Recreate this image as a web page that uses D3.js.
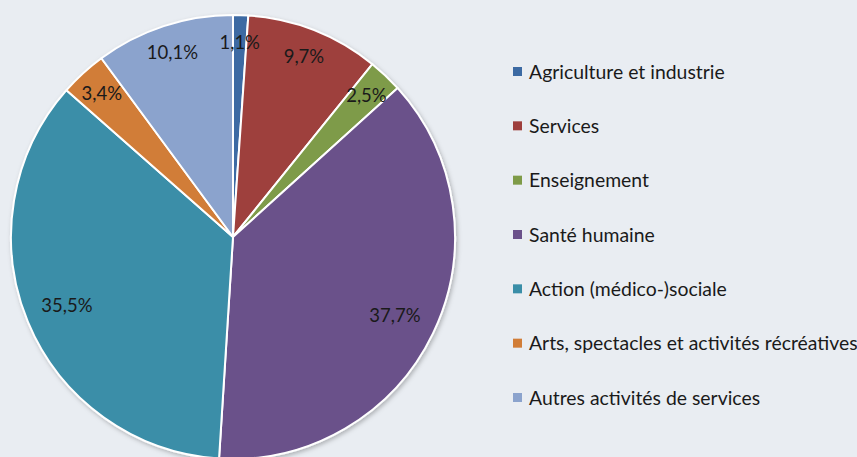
<!DOCTYPE html>
<html>
<head>
<meta charset="utf-8">
<script src="https://cdn.jsdelivr.net/npm/d3@7"></script>
<style>
  html, body { margin: 0; padding: 0; background: #E9EDF2; }
  svg { display: block; font-family: Lato, "Open Sans", sans-serif; }
</style>
</head>
<body>
<svg id="chart" width="857" height="457"></svg>
<script>
// secteurs d'activité — parts en %
const categories = [
  'Agriculture et industrie', 'Services', 'Enseignement', 'Santé humaine',
  'Action (médico-)sociale', 'Arts, spectacles et activités récréatives',
  'Autres activités de services'
];
const values = [1.1, 9.7, 2.5, 37.7, 35.5, 3.4, 10.1];
const colors = ['#3C6AA3', '#9E3F3D', '#7E9B48', '#6A518A', '#3A8EA8', '#D17D37', '#8BA3CD'];

const W = 857, H = 457;
const cx = 233, cy = 237, R = 222;

const svg = d3.select('#chart');

// soft shadow under the pie
const defs = svg.append('defs');
const f = defs.append('filter').attr('id', 'shadow').attr('x', '-10%').attr('y', '-10%').attr('width', '120%').attr('height', '120%');
f.append('feDropShadow').attr('dx', 1.5).attr('dy', 2).attr('stdDeviation', 2).attr('flood-color', '#000').attr('flood-opacity', .25);

const data = categories.map((c, i) => ({ cat: c, val: values[i], color: colors[i] }));

const pie = d3.pie().value(d => d.val).sort(null);
const arcs = pie(data);
const arc = d3.arc().innerRadius(0).outerRadius(R);

const g = svg.append('g').attr('transform', `translate(${cx},${cy})`);

g.append('g').attr('filter', 'url(#shadow)')
  .selectAll('path').data(arcs).join('path')
  .attr('d', arc).attr('fill', d => d.data.color)
  .attr('stroke', '#fff').attr('stroke-width', 2).attr('stroke-linejoin', 'round');

// labels: big slices sit deeper inside, small ones near the rim
const labelR = d => d.data.val > 30 ? R * 0.81 : R * 0.875;
g.append('g').selectAll('text').data(arcs).join('text')
  .attr('transform', d => {
    const a = (d.startAngle + d.endAngle) / 2, r = labelR(d);
    return `translate(${r * Math.sin(a)},${-r * Math.cos(a)})`;
  })
  .attr('text-anchor', 'middle').attr('dy', '0.35em')
  .attr('font-size', 18.5).attr('fill', '#1a1a1a')
  .text(d => d3.format('.1f')(d.data.val).replace('.', ',') + '%');

// legend
const legY = d3.scalePoint().domain(categories).range([72, 398]);
const leg = svg.append('g').selectAll('g').data(data).join('g')
  .attr('transform', d => `translate(513,${legY(d.cat)})`);
leg.append('rect').attr('x', 0).attr('y', -5).attr('width', 9).attr('height', 9).attr('fill', d => d.color);
leg.append('text').attr('x', 16).attr('dy', '0.35em').attr('font-size', 19.4).attr('fill', '#1a1a1a')
  .text(d => d.cat);
</script>
</body>
</html>
